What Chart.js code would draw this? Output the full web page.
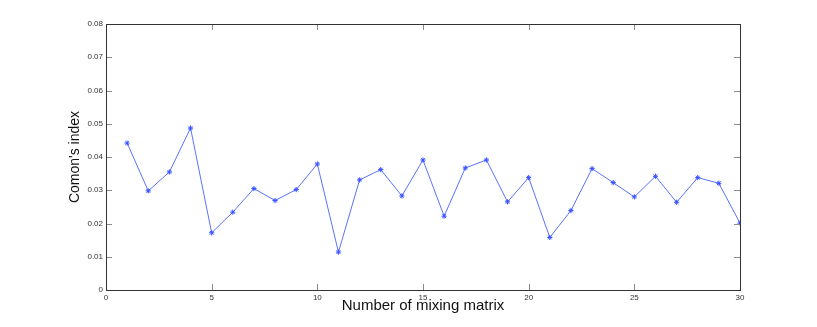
<!DOCTYPE html>
<html>
<head>
<meta charset="utf-8">
<script src="https://cdn.jsdelivr.net/npm/chart.js@4/dist/chart.umd.min.js"></script>
<style>
  html, body { margin: 0; padding: 0; background: #fff; }
  #wrap { width: 817px; height: 327px; }
</style>
</head>
<body>
<div id="wrap"><canvas id="c"></canvas></div>
<script>
// --- DATA ---
const matrixIndex = Array.from({ length: 30 }, (_, i) => i + 1);
const comonIndex = [
  0.0442, 0.0298, 0.0355, 0.0487, 0.0172, 0.0234, 0.0305, 0.0269, 0.0302, 0.0379,
  0.0114, 0.0331, 0.0362, 0.0283, 0.0391, 0.0222, 0.0367, 0.0391, 0.0265, 0.0338,
  0.0158, 0.0239, 0.0365, 0.0323, 0.0280, 0.0342, 0.0264, 0.0338, 0.0321, 0.0201
];
const xTicks = [0, 5, 10, 15, 20, 25, 30];
const yTicks = [0, 0.01, 0.02, 0.03, 0.04, 0.05, 0.06, 0.07, 0.08];

// MATLAB-style box with inward ticks on all four sides
const boxPlugin = {
  id: 'box',
  afterDraw(chart) {
    const { ctx, chartArea: a, scales } = chart;
    const len = 6;
    ctx.save();
    ctx.strokeStyle = '#8a8a8a';
    ctx.lineWidth = 1;
    ctx.beginPath();
    xTicks.forEach(v => {
      const x = Math.round(scales.x.getPixelForValue(v)) + 0.5;
      ctx.moveTo(x, a.bottom); ctx.lineTo(x, a.bottom - len);
      ctx.moveTo(x, a.top); ctx.lineTo(x, a.top + len);
    });
    yTicks.forEach(v => {
      const y = Math.round(scales.y.getPixelForValue(v)) + 0.5;
      ctx.moveTo(a.left, y); ctx.lineTo(a.left + len, y);
      ctx.moveTo(a.right, y); ctx.lineTo(a.right - len, y);
    });
    ctx.stroke();
    ctx.strokeStyle = '#333';
    ctx.strokeRect(Math.round(a.left) + 0.5, Math.round(a.top) + 0.5,
      Math.round(a.right - a.left), Math.round(a.bottom - a.top));
    ctx.restore();
  }
};

new Chart(document.getElementById('c'), {
  type: 'line',
  data: {
    datasets: [{
      data: matrixIndex.map((x, i) => ({ x, y: comonIndex[i] })),
      borderColor: '#5a72ff',
      borderWidth: 1,
      backgroundColor: '#3550ff',
      pointStyle: 'star',
      pointRadius: 2.6,
      pointBorderColor: '#3550ff',
      pointBorderWidth: 1,
      tension: 0,
      fill: false
    }]
  },
  options: {
    responsive: true,
    maintainAspectRatio: false,
    animation: false,
    layout: { padding: { left: 0, top: 24, right: 77, bottom: 0 } },
    plugins: { legend: { display: false }, tooltip: { enabled: false } },
    scales: {
      x: {
        type: 'linear',
        min: 0, max: 30,
        afterBuildTicks: s => { s.ticks = xTicks.map(v => ({ value: v })); },
        afterFit: s => { s.height = 37; },
        grid: { display: false, drawTicks: false },
        border: { display: false },
        ticks: { color: '#333', font: { family: 'Liberation Sans', size: 8 }, padding: 3, maxRotation: 0 },
        title: {
          display: true,
          text: 'Number of mixing matrix',
          color: '#111',
          font: { family: 'Liberation Sans', size: 15 },
          padding: { top: 0, bottom: 12 }
        }
      },
      y: {
        min: 0, max: 0.08,
        afterBuildTicks: s => { s.ticks = yTicks.map(v => ({ value: v })); },
        afterFit: s => { s.width = 106; },
        grid: { display: false, drawTicks: false },
        border: { display: false },
        ticks: {
          color: '#333',
          font: { family: 'Liberation Sans', size: 8 },
          padding: 3,
          callback: v => v === 0 ? '0' : v.toFixed(2)
        },
        title: {
          display: true,
          text: "Comon's index",
          color: '#111',
          font: { family: "'Liberation Sans Narrow', 'Liberation Sans'", size: 14 },
          padding: { top: 67, bottom: 0 }
        }
      }
    }
  },
  plugins: [boxPlugin]
});
</script>
</body>
</html>
